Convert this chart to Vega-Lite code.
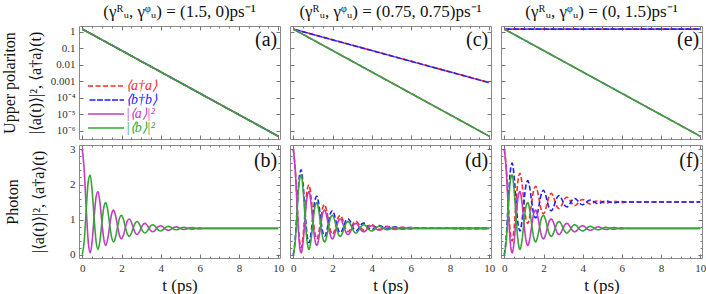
{
  "$schema": "https://vega.github.io/schema/vega-lite/v6.json",
  "padding": {"left": 0, "top": 2, "right": 0, "bottom": 0},
  "bounds": "flush",
  "columns": 3,
  "spacing": {"row": 6, "column": 10},
  "resolve": {"scale": {"color": "independent", "strokeDash": "independent"}},
  "config": {
    "font": "Liberation Serif",
    "view": {"stroke": "#8a8a8a", "strokeWidth": 1},
    "axis": {"grid": false, "domain": false, "ticks": true, "tickColor": "#777", "tickSize": -4, "tickWidth": 1,
      "labelFont": "Liberation Serif", "labelFontSize": 11, "labelColor": "#333", "labelPadding": 8, "labelFlush": false, "labelOverlap": false,
      "titleFont": "Liberation Serif", "titleFontWeight": "normal", "titleColor": "#111", "titleFontSize": 16, "titleLineHeight": 26},
    "title": {"font": "Liberation Serif", "fontSize": 17, "fontWeight": "normal", "color": "#111", "offset": 5},
    "line": {"strokeWidth": 1.6}
  },
  "datasets": {
    "ua": [
      {"t": 0, "aa": 1.5, "bb": 1.5, "a2": 1.5, "b2": 1.5},
      {"t": 10, "aa": 4.59e-7, "bb": 4.59e-7, "a2": 4.59e-7, "b2": 4.59e-7}
    ],
    "uc": [
      {"t": 0, "aa": 1.5, "bb": 1.5, "a2": 1.5, "b2": 1.5},
      {"t": 10, "aa": 8.3e-4, "bb": 8.3e-4, "a2": 4.59e-7, "b2": 4.59e-7}
    ],
    "ue": [
      {"t": 0, "aa": 1.5, "bb": 1.5, "a2": 1.5, "b2": 1.5},
      {"t": 10, "aa": 1.5, "bb": 1.5, "a2": 4.59e-7, "b2": 4.59e-7}
    ],
    "ph": [
      {"t": 0, "M": 3, "G": 0, "Rd": 3, "Bd": 0, "Rf": 3, "Bf": 0},
      {"t": 0.1, "M": 2.380, "G": 0.412, "Rd": 2.430, "Bd": 0.462, "Rf": 2.484, "Bf": 0.516},
      {"t": 0.2, "M": 1.306, "G": 1.306, "Rd": 1.396, "Bd": 1.396, "Rf": 1.5, "Bf": 1.5},
      {"t": 0.3, "M": 0.381, "G": 2.075, "Rd": 0.502, "Bd": 2.196, "Rf": 0.653, "Bf": 2.347},
      {"t": 0.4, "M": 0.051, "G": 2.273, "Rd": 0.195, "Bd": 2.417, "Rf": 0.389, "Bf": 2.611},
      {"t": 0.5, "M": 0.375, "G": 1.833, "Rd": 0.536, "Bd": 1.994, "Rf": 0.771, "Bf": 2.229},
      {"t": 0.6, "M": 1.055, "G": 1.055, "Rd": 1.228, "Bd": 1.228, "Rf": 1.5, "Bf": 1.5},
      {"t": 0.7, "M": 1.639, "G": 0.385, "Rd": 1.821, "Bd": 0.567, "Rf": 2.127, "Bf": 0.873},
      {"t": 0.8, "M": 1.799, "G": 0.153, "Rd": 1.985, "Bd": 0.339, "Rf": 2.323, "Bf": 0.677},
      {"t": 0.9, "M": 1.484, "G": 0.404, "Rd": 1.672, "Bd": 0.592, "Rf": 2.040, "Bf": 0.960},
      {"t": 1.0, "M": 0.917, "G": 0.917, "Rd": 1.104, "Bd": 1.104, "Rf": 1.5, "Bf": 1.5},
      {"t": 1.1, "M": 0.429, "G": 1.359, "Rd": 0.614, "Bd": 1.544, "Rf": 1.035, "Bf": 1.965},
      {"t": 1.2, "M": 0.264, "G": 1.484, "Rd": 0.445, "Bd": 1.665, "Rf": 0.890, "Bf": 2.110},
      {"t": 1.3, "M": 0.457, "G": 1.257, "Rd": 0.633, "Bd": 1.433, "Rf": 1.100, "Bf": 1.900},
      {"t": 1.4, "M": 0.842, "G": 0.842, "Rd": 1.012, "Bd": 1.012, "Rf": 1.5, "Bf": 1.5},
      {"t": 1.5, "M": 1.173, "G": 0.485, "Rd": 1.337, "Bd": 0.649, "Rf": 1.844, "Bf": 1.156},
      {"t": 1.6, "M": 1.270, "G": 0.366, "Rd": 1.428, "Bd": 0.524, "Rf": 1.952, "Bf": 1.048},
      {"t": 1.7, "M": 1.105, "G": 0.513, "Rd": 1.256, "Bd": 0.664, "Rf": 1.796, "Bf": 1.204},
      {"t": 1.8, "M": 0.800, "G": 0.800, "Rd": 0.944, "Bd": 0.944, "Rf": 1.5, "Bf": 1.5},
      {"t": 1.9, "M": 0.538, "G": 1.048, "Rd": 0.675, "Bd": 1.185, "Rf": 1.245, "Bf": 1.755},
      {"t": 2.0, "M": 0.452, "G": 1.122, "Rd": 0.582, "Bd": 1.252, "Rf": 1.165, "Bf": 1.835},
      {"t": 2.1, "M": 0.562, "G": 1.002, "Rd": 0.685, "Bd": 1.125, "Rf": 1.280, "Bf": 1.720},
      {"t": 2.2, "M": 0.778, "G": 0.778, "Rd": 0.894, "Bd": 0.894, "Rf": 1.5, "Bf": 1.5},
      {"t": 2.3, "M": 0.963, "G": 0.585, "Rd": 1.073, "Bd": 0.695, "Rf": 1.689, "Bf": 1.311},
      {"t": 2.4, "M": 1.018, "G": 0.522, "Rd": 1.122, "Bd": 0.626, "Rf": 1.748, "Bf": 1.252},
      {"t": 2.5, "M": 0.931, "G": 0.605, "Rd": 1.028, "Bd": 0.702, "Rf": 1.663, "Bf": 1.337},
      {"t": 2.6, "M": 0.765, "G": 0.765, "Rd": 0.857, "Bd": 0.857, "Rf": 1.5, "Bf": 1.5},
      {"t": 2.7, "M": 0.623, "G": 0.903, "Rd": 0.709, "Bd": 0.989, "Rf": 1.360, "Bf": 1.640},
      {"t": 2.8, "M": 0.577, "G": 0.945, "Rd": 0.658, "Bd": 1.026, "Rf": 1.316, "Bf": 1.684},
      {"t": 2.9, "M": 0.639, "G": 0.881, "Rd": 0.714, "Bd": 0.956, "Rf": 1.379, "Bf": 1.621},
      {"t": 3.0, "M": 0.758, "G": 0.758, "Rd": 0.829, "Bd": 0.829, "Rf": 1.5, "Bf": 1.5},
      {"t": 3.1, "M": 0.861, "G": 0.653, "Rd": 0.927, "Bd": 0.719, "Rf": 1.604, "Bf": 1.396},
      {"t": 3.2, "M": 0.892, "G": 0.620, "Rd": 0.954, "Bd": 0.682, "Rf": 1.636, "Bf": 1.364},
      {"t": 3.3, "M": 0.844, "G": 0.666, "Rd": 0.902, "Bd": 0.724, "Rf": 1.589, "Bf": 1.411},
      {"t": 3.4, "M": 0.755, "G": 0.755, "Rd": 0.809, "Bd": 0.809, "Rf": 1.5, "Bf": 1.5},
      {"t": 3.5, "M": 0.677, "G": 0.831, "Rd": 0.727, "Bd": 0.881, "Rf": 1.423, "Bf": 1.577},
      {"t": 3.6, "M": 0.652, "G": 0.854, "Rd": 0.699, "Bd": 0.901, "Rf": 1.399, "Bf": 1.601},
      {"t": 3.7, "M": 0.687, "G": 0.819, "Rd": 0.731, "Bd": 0.863, "Rf": 1.434, "Bf": 1.566},
      {"t": 3.8, "M": 0.753, "G": 0.753, "Rd": 0.793, "Bd": 0.793, "Rf": 1.5, "Bf": 1.5},
      {"t": 3.9, "M": 0.809, "G": 0.695, "Rd": 0.847, "Bd": 0.733, "Rf": 1.557, "Bf": 1.443},
      {"t": 4.0, "M": 0.827, "G": 0.677, "Rd": 0.862, "Bd": 0.712, "Rf": 1.575, "Bf": 1.425},
      {"t": 4.1, "M": 0.801, "G": 0.703, "Rd": 0.834, "Bd": 0.736, "Rf": 1.549, "Bf": 1.451},
      {"t": 4.2, "M": 0.751, "G": 0.751, "Rd": 0.782, "Bd": 0.782, "Rf": 1.5, "Bf": 1.5},
      {"t": 4.3, "M": 0.709, "G": 0.793, "Rd": 0.738, "Bd": 0.822, "Rf": 1.458, "Bf": 1.542},
      {"t": 4.4, "M": 0.696, "G": 0.806, "Rd": 0.723, "Bd": 0.833, "Rf": 1.445, "Bf": 1.555},
      {"t": 4.5, "M": 0.715, "G": 0.787, "Rd": 0.740, "Bd": 0.812, "Rf": 1.464, "Bf": 1.536},
      {"t": 4.6, "M": 0.751, "G": 0.751, "Rd": 0.774, "Bd": 0.774, "Rf": 1.5, "Bf": 1.5},
      {"t": 4.7, "M": 0.782, "G": 0.720, "Rd": 0.803, "Bd": 0.741, "Rf": 1.531, "Bf": 1.469},
      {"t": 4.8, "M": 0.792, "G": 0.710, "Rd": 0.811, "Bd": 0.729, "Rf": 1.541, "Bf": 1.459},
      {"t": 4.9, "M": 0.777, "G": 0.723, "Rd": 0.796, "Bd": 0.742, "Rf": 1.527, "Bf": 1.473},
      {"t": 5.0, "M": 0.750, "G": 0.750, "Rd": 0.768, "Bd": 0.768, "Rf": 1.5, "Bf": 1.5},
      {"t": 5.1, "M": 0.727, "G": 0.773, "Rd": 0.743, "Bd": 0.789, "Rf": 1.477, "Bf": 1.523},
      {"t": 5.2, "M": 0.720, "G": 0.780, "Rd": 0.735, "Bd": 0.795, "Rf": 1.470, "Bf": 1.530},
      {"t": 5.3, "M": 0.730, "G": 0.770, "Rd": 0.744, "Bd": 0.784, "Rf": 1.480, "Bf": 1.520},
      {"t": 5.4, "M": 0.750, "G": 0.750, "Rd": 0.763, "Bd": 0.763, "Rf": 1.5, "Bf": 1.5},
      {"t": 5.5, "M": 0.767, "G": 0.733, "Rd": 0.779, "Bd": 0.745, "Rf": 1.517, "Bf": 1.483},
      {"t": 5.6, "M": 0.772, "G": 0.728, "Rd": 0.783, "Bd": 0.739, "Rf": 1.522, "Bf": 1.478},
      {"t": 5.7, "M": 0.765, "G": 0.735, "Rd": 0.775, "Bd": 0.745, "Rf": 1.515, "Bf": 1.485},
      {"t": 5.8, "M": 0.750, "G": 0.750, "Rd": 0.760, "Bd": 0.760, "Rf": 1.5, "Bf": 1.5},
      {"t": 5.9, "M": 0.737, "G": 0.763, "Rd": 0.746, "Bd": 0.772, "Rf": 1.487, "Bf": 1.513},
      {"t": 6.0, "M": 0.733, "G": 0.767, "Rd": 0.741, "Bd": 0.775, "Rf": 1.483, "Bf": 1.517},
      {"t": 6.2, "M": 0.750, "G": 0.750, "Rd": 0.757, "Bd": 0.757, "Rf": 1.5, "Bf": 1.5},
      {"t": 7, "M": 0.750, "G": 0.750, "Rd": 0.754, "Bd": 0.754, "Rf": 1.5, "Bf": 1.5},
      {"t": 8, "M": 0.750, "G": 0.750, "Rd": 0.752, "Bd": 0.752, "Rf": 1.5, "Bf": 1.5},
      {"t": 10, "M": 0.750, "G": 0.750, "Rd": 0.750, "Bd": 0.750, "Rf": 1.5, "Bf": 1.5}
    ]
  },
  "concat": [
    {
      "width": 201, "height": 113,
      "title": {"text": "(γᴿᵤ, γᵠᵤ) = (1.5, 0)ps⁻¹"},
      "data": {"name": "ua"},
      "transform": [{"fold": ["aa", "bb", "a2", "b2"], "as": ["s", "v"]}],
      "layer": [
        {"mark": {"type": "line"},
         "encoding": {
           "x": {"field": "t", "type": "quantitative", "scale": {"domain": [-0.17, 10.09], "nice": false, "zero": false}, "axis": {"orient": "bottom", "values": [0, 2, 4, 6, 8, 10], "labels": false, "title": null}},
           "y": {"field": "v", "type": "quantitative", "scale": {"type": "log", "domain": [3.1e-7, 2.31], "nice": false}, "axis": {"orient": "left", "values": [1, 0.1, 0.01, 0.001, 0.0001, 0.00001, 0.000001], "labelExpr": "datum.value > 0.5 ? '1' : datum.value > 0.05 ? '0.1' : datum.value > 0.005 ? '0.01' : datum.value > 0.0005 ? '0.001' : datum.value > 0.00005 ? '10⁻⁴' : datum.value > 0.000005 ? '10⁻⁵' : '10⁻⁶'", "title": ["Upper polariton", "|⟨a(t)⟩|², ⟨a†a⟩(t)"], "titlePadding": 7}},
           "color": {"field": "s", "type": "nominal", "scale": {"domain": ["aa", "bb", "a2", "b2"], "range": ["#ff2b2b", "#1f1fff", "#c33cc3", "#35a535"]},
             "legend": {"orient": "none", "legendX": 20, "legendY": 53, "title": null, "symbolType": "M-3,0H3", "symbolSize": 144, "symbolStrokeWidth": 1.6, "labelFont": "Liberation Serif", "labelFontSize": 14, "labelFontStyle": "italic", "labelOffset": 13, "rowPadding": 0, "padding": 0,
               "labelExpr": "datum.value === 'aa' ? '⟨a†a⟩' : datum.value === 'bb' ? '⟨b†b⟩' : datum.value === 'a2' ? '|⟨a⟩|²' : '|⟨b⟩|²'",
               "labelColor": {"expr": "datum.value === 'aa' ? '#ff2b2b' : datum.value === 'bb' ? '#1f1fff' : datum.value === 'a2' ? '#c33cc3' : '#35a535'"}}},
           "strokeDash": {"field": "s", "type": "nominal", "scale": {"domain": ["aa", "bb", "a2", "b2"], "range": [[5, 2.5], [0, 1.5, 6, 0], [1, 0], [1, 0]]},
             "legend": {"orient": "none", "legendX": 20, "legendY": 53, "title": null, "symbolType": "M-3,0H3", "symbolSize": 144, "symbolStrokeWidth": 1.6, "labelFont": "Liberation Serif", "labelFontSize": 14, "labelFontStyle": "italic", "labelOffset": 13, "rowPadding": 0, "padding": 0,
               "labelExpr": "datum.value === 'aa' ? '⟨a†a⟩' : datum.value === 'bb' ? '⟨b†b⟩' : datum.value === 'a2' ? '|⟨a⟩|²' : '|⟨b⟩|²'",
               "labelColor": {"expr": "datum.value === 'aa' ? '#ff2b2b' : datum.value === 'bb' ? '#1f1fff' : datum.value === 'a2' ? '#c33cc3' : '#35a535'"}}}
         }},
        {"mark": {"type": "line", "opacity": 0},
         "encoding": {
           "x": {"field": "t", "type": "quantitative", "scale": {"domain": [-0.17, 10.09], "nice": false, "zero": false}, "axis": {"orient": "top", "values": [0, 2, 4, 6, 8, 10], "labels": false, "title": null}},
           "y": {"field": "v", "type": "quantitative", "scale": {"type": "log", "domain": [3.1e-7, 2.31], "nice": false}, "axis": {"orient": "right", "values": [1, 0.1, 0.01, 0.001, 0.0001, 0.00001, 0.000001], "labels": false, "title": null}}
         }},
        {"mark": {"type": "line", "opacity": 0},
         "encoding": {
           "x": {"field": "t", "type": "quantitative", "scale": {"domain": [-0.17, 10.09], "nice": false, "zero": false}, "axis": {"orient": "bottom", "values": [0.5, 1, 1.5, 2.5, 3, 3.5, 4.5, 5, 5.5, 6.5, 7, 7.5, 8.5, 9, 9.5], "labels": false, "title": null, "tickSize": -2}},
           "y": {"field": "v", "type": "quantitative", "scale": {"type": "log", "domain": [3.1e-7, 2.31], "nice": false}, "axis": null}
         }},
        {"mark": {"type": "line", "opacity": 0},
         "encoding": {
           "x": {"field": "t", "type": "quantitative", "scale": {"domain": [-0.17, 10.09], "nice": false, "zero": false}, "axis": {"orient": "top", "values": [0.5, 1, 1.5, 2.5, 3, 3.5, 4.5, 5, 5.5, 6.5, 7, 7.5, 8.5, 9, 9.5], "labels": false, "title": null, "tickSize": -2}},
           "y": {"field": "v", "type": "quantitative", "scale": {"type": "log", "domain": [3.1e-7, 2.31], "nice": false}, "axis": null}
         }},
        {"data": {"values": [{}]},
         "mark": {"type": "text", "align": "right", "baseline": "middle", "fontSize": 20, "color": "#111"},
         "encoding": {
           "x": {"datum": 9.95, "type": "quantitative", "scale": {"domain": [-0.17, 10.09], "nice": false, "zero": false}, "axis": null},
           "y": {"datum": 0.31, "type": "quantitative", "scale": {"type": "log", "domain": [3.1e-7, 2.31], "nice": false}, "axis": null},
           "text": {"value": "(a)"}
         }}
      ],
      "resolve": {"axis": {"x": "independent", "y": "independent"}}
    },
    {
      "width": 201, "height": 113,
      "title": {"text": "(γᴿᵤ, γᵠᵤ) = (0.75, 0.75)ps⁻¹"},
      "data": {"name": "uc"},
      "transform": [{"fold": ["aa", "bb", "a2", "b2"], "as": ["s", "v"]}],
      "layer": [
        {"mark": {"type": "line"},
         "encoding": {
           "x": {"field": "t", "type": "quantitative", "scale": {"domain": [-0.17, 10.09], "nice": false, "zero": false}, "axis": {"orient": "bottom", "values": [0, 2, 4, 6, 8, 10], "labels": false, "title": null}},
           "y": {"field": "v", "type": "quantitative", "scale": {"type": "log", "domain": [3.1e-7, 2.31], "nice": false}, "axis": {"orient": "left", "values": [1, 0.1, 0.01, 0.001, 0.0001, 0.00001, 0.000001], "labels": false, "title": null}},
           "color": {"field": "s", "type": "nominal", "scale": {"domain": ["aa", "bb", "a2", "b2"], "range": ["#ff2b2b", "#1f1fff", "#c33cc3", "#35a535"]}, "legend": null},
           "strokeDash": {"field": "s", "type": "nominal", "scale": {"domain": ["aa", "bb", "a2", "b2"], "range": [[5, 2.5], [0, 1.5, 6, 0], [1, 0], [1, 0]]}, "legend": null}
         }},
        {"mark": {"type": "line", "opacity": 0},
         "encoding": {
           "x": {"field": "t", "type": "quantitative", "scale": {"domain": [-0.17, 10.09], "nice": false, "zero": false}, "axis": {"orient": "top", "values": [0, 2, 4, 6, 8, 10], "labels": false, "title": null}},
           "y": {"field": "v", "type": "quantitative", "scale": {"type": "log", "domain": [3.1e-7, 2.31], "nice": false}, "axis": {"orient": "right", "values": [1, 0.1, 0.01, 0.001, 0.0001, 0.00001, 0.000001], "labels": false, "title": null}}
         }},
        {"mark": {"type": "line", "opacity": 0},
         "encoding": {
           "x": {"field": "t", "type": "quantitative", "scale": {"domain": [-0.17, 10.09], "nice": false, "zero": false}, "axis": {"orient": "bottom", "values": [0.5, 1, 1.5, 2.5, 3, 3.5, 4.5, 5, 5.5, 6.5, 7, 7.5, 8.5, 9, 9.5], "labels": false, "title": null, "tickSize": -2}},
           "y": {"field": "v", "type": "quantitative", "scale": {"type": "log", "domain": [3.1e-7, 2.31], "nice": false}, "axis": null}
         }},
        {"mark": {"type": "line", "opacity": 0},
         "encoding": {
           "x": {"field": "t", "type": "quantitative", "scale": {"domain": [-0.17, 10.09], "nice": false, "zero": false}, "axis": {"orient": "top", "values": [0.5, 1, 1.5, 2.5, 3, 3.5, 4.5, 5, 5.5, 6.5, 7, 7.5, 8.5, 9, 9.5], "labels": false, "title": null, "tickSize": -2}},
           "y": {"field": "v", "type": "quantitative", "scale": {"type": "log", "domain": [3.1e-7, 2.31], "nice": false}, "axis": null}
         }},
        {"data": {"values": [{}]},
         "mark": {"type": "text", "align": "right", "baseline": "middle", "fontSize": 20, "color": "#111"},
         "encoding": {
           "x": {"datum": 9.95, "type": "quantitative", "scale": {"domain": [-0.17, 10.09], "nice": false, "zero": false}, "axis": null},
           "y": {"datum": 0.31, "type": "quantitative", "scale": {"type": "log", "domain": [3.1e-7, 2.31], "nice": false}, "axis": null},
           "text": {"value": "(c)"}
         }}
      ],
      "resolve": {"axis": {"x": "independent", "y": "independent"}}
    },
    {
      "width": 201, "height": 113,
      "title": {"text": "(γᴿᵤ, γᵠᵤ) = (0, 1.5)ps⁻¹"},
      "data": {"name": "ue"},
      "transform": [{"fold": ["aa", "bb", "a2", "b2"], "as": ["s", "v"]}],
      "layer": [
        {"mark": {"type": "line"},
         "encoding": {
           "x": {"field": "t", "type": "quantitative", "scale": {"domain": [-0.17, 10.09], "nice": false, "zero": false}, "axis": {"orient": "bottom", "values": [0, 2, 4, 6, 8, 10], "labels": false, "title": null}},
           "y": {"field": "v", "type": "quantitative", "scale": {"type": "log", "domain": [3.1e-7, 2.31], "nice": false}, "axis": {"orient": "left", "values": [1, 0.1, 0.01, 0.001, 0.0001, 0.00001, 0.000001], "labels": false, "title": null}},
           "color": {"field": "s", "type": "nominal", "scale": {"domain": ["aa", "bb", "a2", "b2"], "range": ["#ff2b2b", "#1f1fff", "#c33cc3", "#35a535"]}, "legend": null},
           "strokeDash": {"field": "s", "type": "nominal", "scale": {"domain": ["aa", "bb", "a2", "b2"], "range": [[5, 2.5], [0, 1.5, 6, 0], [1, 0], [1, 0]]}, "legend": null}
         }},
        {"mark": {"type": "line", "opacity": 0},
         "encoding": {
           "x": {"field": "t", "type": "quantitative", "scale": {"domain": [-0.17, 10.09], "nice": false, "zero": false}, "axis": {"orient": "top", "values": [0, 2, 4, 6, 8, 10], "labels": false, "title": null}},
           "y": {"field": "v", "type": "quantitative", "scale": {"type": "log", "domain": [3.1e-7, 2.31], "nice": false}, "axis": {"orient": "right", "values": [1, 0.1, 0.01, 0.001, 0.0001, 0.00001, 0.000001], "labels": false, "title": null}}
         }},
        {"mark": {"type": "line", "opacity": 0},
         "encoding": {
           "x": {"field": "t", "type": "quantitative", "scale": {"domain": [-0.17, 10.09], "nice": false, "zero": false}, "axis": {"orient": "bottom", "values": [0.5, 1, 1.5, 2.5, 3, 3.5, 4.5, 5, 5.5, 6.5, 7, 7.5, 8.5, 9, 9.5], "labels": false, "title": null, "tickSize": -2}},
           "y": {"field": "v", "type": "quantitative", "scale": {"type": "log", "domain": [3.1e-7, 2.31], "nice": false}, "axis": null}
         }},
        {"mark": {"type": "line", "opacity": 0},
         "encoding": {
           "x": {"field": "t", "type": "quantitative", "scale": {"domain": [-0.17, 10.09], "nice": false, "zero": false}, "axis": {"orient": "top", "values": [0.5, 1, 1.5, 2.5, 3, 3.5, 4.5, 5, 5.5, 6.5, 7, 7.5, 8.5, 9, 9.5], "labels": false, "title": null, "tickSize": -2}},
           "y": {"field": "v", "type": "quantitative", "scale": {"type": "log", "domain": [3.1e-7, 2.31], "nice": false}, "axis": null}
         }},
        {"data": {"values": [{}]},
         "mark": {"type": "text", "align": "right", "baseline": "middle", "fontSize": 20, "color": "#111"},
         "encoding": {
           "x": {"datum": 9.95, "type": "quantitative", "scale": {"domain": [-0.17, 10.09], "nice": false, "zero": false}, "axis": null},
           "y": {"datum": 0.31, "type": "quantitative", "scale": {"type": "log", "domain": [3.1e-7, 2.31], "nice": false}, "axis": null},
           "text": {"value": "(e)"}
         }}
      ],
      "resolve": {"axis": {"x": "independent", "y": "independent"}}
    },
    {
      "width": 201, "height": 113,
      "data": {"name": "ph"},
      "transform": [{"fold": ["M", "G"], "as": ["s", "v"]}],
      "layer": [
        {"mark": {"type": "line", "interpolate": "monotone"},
         "encoding": {
           "x": {"field": "t", "type": "quantitative", "scale": {"domain": [-0.17, 10.09], "nice": false, "zero": false}, "axis": {"orient": "bottom", "values": [0, 2, 4, 6, 8, 10], "title": "t (ps)", "titleFontSize": 17, "titlePadding": 4}},
           "y": {"field": "v", "type": "quantitative", "scale": {"domain": [-0.094, 3.126], "nice": false, "zero": false}, "axis": {"orient": "left", "values": [0, 1, 2, 3], "title": ["Photon", "|⟨a(t)⟩|², ⟨a†a⟩(t)"], "titlePadding": 23}},
           "color": {"field": "s", "type": "nominal", "scale": {"domain": ["M", "G"], "range": ["#c33cc3", "#35a535"]}, "legend": null}
         }},
        {"mark": {"type": "line", "opacity": 0},
         "encoding": {
           "x": {"field": "t", "type": "quantitative", "scale": {"domain": [-0.17, 10.09], "nice": false, "zero": false}, "axis": {"orient": "top", "values": [0, 2, 4, 6, 8, 10], "labels": false, "title": null}},
           "y": {"field": "v", "type": "quantitative", "scale": {"domain": [-0.094, 3.126], "nice": false, "zero": false}, "axis": {"orient": "right", "values": [0, 1, 2, 3], "labels": false, "title": null}}
         }},
        {"mark": {"type": "line", "opacity": 0},
         "encoding": {
           "x": {"field": "t", "type": "quantitative", "scale": {"domain": [-0.17, 10.09], "nice": false, "zero": false}, "axis": {"orient": "bottom", "values": [0.5, 1, 1.5, 2.5, 3, 3.5, 4.5, 5, 5.5, 6.5, 7, 7.5, 8.5, 9, 9.5], "labels": false, "title": null, "tickSize": -2}},
           "y": {"field": "v", "type": "quantitative", "scale": {"domain": [-0.094, 3.126], "nice": false, "zero": false}, "axis": {"orient": "left", "values": [0.2, 0.4, 0.6, 0.8, 1.2, 1.4, 1.6, 1.8, 2.2, 2.4, 2.6, 2.8], "labels": false, "title": null, "tickSize": -2}}
         }},
        {"mark": {"type": "line", "opacity": 0},
         "encoding": {
           "x": {"field": "t", "type": "quantitative", "scale": {"domain": [-0.17, 10.09], "nice": false, "zero": false}, "axis": {"orient": "top", "values": [0.5, 1, 1.5, 2.5, 3, 3.5, 4.5, 5, 5.5, 6.5, 7, 7.5, 8.5, 9, 9.5], "labels": false, "title": null, "tickSize": -2}},
           "y": {"field": "v", "type": "quantitative", "scale": {"domain": [-0.094, 3.126], "nice": false, "zero": false}, "axis": {"orient": "right", "values": [0.2, 0.4, 0.6, 0.8, 1.2, 1.4, 1.6, 1.8, 2.2, 2.4, 2.6, 2.8], "labels": false, "title": null, "tickSize": -2}}
         }},
        {"data": {"values": [{}]},
         "mark": {"type": "text", "align": "right", "baseline": "middle", "fontSize": 20, "color": "#111"},
         "encoding": {
           "x": {"datum": 9.95, "type": "quantitative", "scale": {"domain": [-0.17, 10.09], "nice": false, "zero": false}, "axis": null},
           "y": {"datum": 2.67, "type": "quantitative", "scale": {"domain": [-0.094, 3.126], "nice": false, "zero": false}, "axis": null},
           "text": {"value": "(b)"}
         }}
      ],
      "resolve": {"axis": {"x": "independent", "y": "independent"}}
    },
    {
      "width": 201, "height": 113,
      "data": {"name": "ph"},
      "transform": [{"fold": ["Rd", "Bd", "M", "G"], "as": ["s", "v"]}],
      "layer": [
        {"mark": {"type": "line", "interpolate": "monotone"},
         "encoding": {
           "x": {"field": "t", "type": "quantitative", "scale": {"domain": [-0.17, 10.09], "nice": false, "zero": false}, "axis": {"orient": "bottom", "values": [0, 2, 4, 6, 8, 10], "title": "t (ps)", "titleFontSize": 17, "titlePadding": 4}},
           "y": {"field": "v", "type": "quantitative", "scale": {"domain": [-0.094, 3.126], "nice": false, "zero": false}, "axis": {"orient": "left", "values": [0, 1, 2, 3], "labels": false, "title": null}},
           "color": {"field": "s", "type": "nominal", "scale": {"domain": ["Rd", "Bd", "M", "G"], "range": ["#ff2b2b", "#1f1fff", "#c33cc3", "#35a535"]}, "legend": null},
           "strokeDash": {"field": "s", "type": "nominal", "scale": {"domain": ["Rd", "Bd", "M", "G"], "range": [[5, 2.5], [5, 2.5], [1, 0], [1, 0]]}, "legend": null}
         }},
        {"mark": {"type": "line", "opacity": 0},
         "encoding": {
           "x": {"field": "t", "type": "quantitative", "scale": {"domain": [-0.17, 10.09], "nice": false, "zero": false}, "axis": {"orient": "top", "values": [0, 2, 4, 6, 8, 10], "labels": false, "title": null}},
           "y": {"field": "v", "type": "quantitative", "scale": {"domain": [-0.094, 3.126], "nice": false, "zero": false}, "axis": {"orient": "right", "values": [0, 1, 2, 3], "labels": false, "title": null}}
         }},
        {"mark": {"type": "line", "opacity": 0},
         "encoding": {
           "x": {"field": "t", "type": "quantitative", "scale": {"domain": [-0.17, 10.09], "nice": false, "zero": false}, "axis": {"orient": "bottom", "values": [0.5, 1, 1.5, 2.5, 3, 3.5, 4.5, 5, 5.5, 6.5, 7, 7.5, 8.5, 9, 9.5], "labels": false, "title": null, "tickSize": -2}},
           "y": {"field": "v", "type": "quantitative", "scale": {"domain": [-0.094, 3.126], "nice": false, "zero": false}, "axis": {"orient": "left", "values": [0.2, 0.4, 0.6, 0.8, 1.2, 1.4, 1.6, 1.8, 2.2, 2.4, 2.6, 2.8], "labels": false, "title": null, "tickSize": -2}}
         }},
        {"mark": {"type": "line", "opacity": 0},
         "encoding": {
           "x": {"field": "t", "type": "quantitative", "scale": {"domain": [-0.17, 10.09], "nice": false, "zero": false}, "axis": {"orient": "top", "values": [0.5, 1, 1.5, 2.5, 3, 3.5, 4.5, 5, 5.5, 6.5, 7, 7.5, 8.5, 9, 9.5], "labels": false, "title": null, "tickSize": -2}},
           "y": {"field": "v", "type": "quantitative", "scale": {"domain": [-0.094, 3.126], "nice": false, "zero": false}, "axis": {"orient": "right", "values": [0.2, 0.4, 0.6, 0.8, 1.2, 1.4, 1.6, 1.8, 2.2, 2.4, 2.6, 2.8], "labels": false, "title": null, "tickSize": -2}}
         }},
        {"data": {"values": [{}]},
         "mark": {"type": "text", "align": "right", "baseline": "middle", "fontSize": 20, "color": "#111"},
         "encoding": {
           "x": {"datum": 9.95, "type": "quantitative", "scale": {"domain": [-0.17, 10.09], "nice": false, "zero": false}, "axis": null},
           "y": {"datum": 2.67, "type": "quantitative", "scale": {"domain": [-0.094, 3.126], "nice": false, "zero": false}, "axis": null},
           "text": {"value": "(d)"}
         }}
      ],
      "resolve": {"axis": {"x": "independent", "y": "independent"}}
    },
    {
      "width": 201, "height": 113,
      "data": {"name": "ph"},
      "transform": [{"fold": ["Rf", "Bf", "M", "G"], "as": ["s", "v"]}],
      "layer": [
        {"mark": {"type": "line", "interpolate": "monotone"},
         "encoding": {
           "x": {"field": "t", "type": "quantitative", "scale": {"domain": [-0.17, 10.09], "nice": false, "zero": false}, "axis": {"orient": "bottom", "values": [0, 2, 4, 6, 8, 10], "title": "t (ps)", "titleFontSize": 17, "titlePadding": 4}},
           "y": {"field": "v", "type": "quantitative", "scale": {"domain": [-0.094, 3.126], "nice": false, "zero": false}, "axis": {"orient": "left", "values": [0, 1, 2, 3], "labels": false, "title": null}},
           "color": {"field": "s", "type": "nominal", "scale": {"domain": ["Rf", "Bf", "M", "G"], "range": ["#ff2b2b", "#1f1fff", "#c33cc3", "#35a535"]}, "legend": null},
           "strokeDash": {"field": "s", "type": "nominal", "scale": {"domain": ["Rf", "Bf", "M", "G"], "range": [[5, 2.5], [5, 2.5], [1, 0], [1, 0]]}, "legend": null}
         }},
        {"mark": {"type": "line", "opacity": 0},
         "encoding": {
           "x": {"field": "t", "type": "quantitative", "scale": {"domain": [-0.17, 10.09], "nice": false, "zero": false}, "axis": {"orient": "top", "values": [0, 2, 4, 6, 8, 10], "labels": false, "title": null}},
           "y": {"field": "v", "type": "quantitative", "scale": {"domain": [-0.094, 3.126], "nice": false, "zero": false}, "axis": {"orient": "right", "values": [0, 1, 2, 3], "labels": false, "title": null}}
         }},
        {"mark": {"type": "line", "opacity": 0},
         "encoding": {
           "x": {"field": "t", "type": "quantitative", "scale": {"domain": [-0.17, 10.09], "nice": false, "zero": false}, "axis": {"orient": "bottom", "values": [0.5, 1, 1.5, 2.5, 3, 3.5, 4.5, 5, 5.5, 6.5, 7, 7.5, 8.5, 9, 9.5], "labels": false, "title": null, "tickSize": -2}},
           "y": {"field": "v", "type": "quantitative", "scale": {"domain": [-0.094, 3.126], "nice": false, "zero": false}, "axis": {"orient": "left", "values": [0.2, 0.4, 0.6, 0.8, 1.2, 1.4, 1.6, 1.8, 2.2, 2.4, 2.6, 2.8], "labels": false, "title": null, "tickSize": -2}}
         }},
        {"mark": {"type": "line", "opacity": 0},
         "encoding": {
           "x": {"field": "t", "type": "quantitative", "scale": {"domain": [-0.17, 10.09], "nice": false, "zero": false}, "axis": {"orient": "top", "values": [0.5, 1, 1.5, 2.5, 3, 3.5, 4.5, 5, 5.5, 6.5, 7, 7.5, 8.5, 9, 9.5], "labels": false, "title": null, "tickSize": -2}},
           "y": {"field": "v", "type": "quantitative", "scale": {"domain": [-0.094, 3.126], "nice": false, "zero": false}, "axis": {"orient": "right", "values": [0.2, 0.4, 0.6, 0.8, 1.2, 1.4, 1.6, 1.8, 2.2, 2.4, 2.6, 2.8], "labels": false, "title": null, "tickSize": -2}}
         }},
        {"data": {"values": [{}]},
         "mark": {"type": "text", "align": "right", "baseline": "middle", "fontSize": 20, "color": "#111"},
         "encoding": {
           "x": {"datum": 9.95, "type": "quantitative", "scale": {"domain": [-0.17, 10.09], "nice": false, "zero": false}, "axis": null},
           "y": {"datum": 2.67, "type": "quantitative", "scale": {"domain": [-0.094, 3.126], "nice": false, "zero": false}, "axis": null},
           "text": {"value": "(f)"}
         }}
      ],
      "resolve": {"axis": {"x": "independent", "y": "independent"}}
    }
  ]
}
